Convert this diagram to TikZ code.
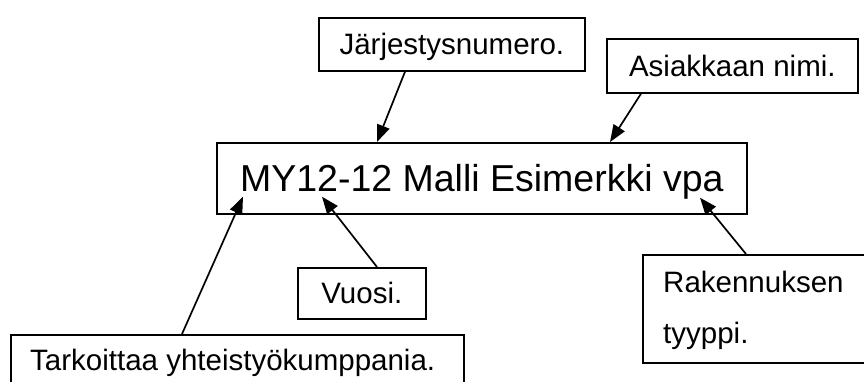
\documentclass[tikz,border=0pt]{standalone}
\usepackage{fontspec}
\setmainfont{Liberation Sans}
\usetikzlibrary{arrows.meta,calc}
\tikzset{
  box/.style={draw, line width=1.7pt, inner sep=0pt, anchor=north west},
  arr/.style={line width=1.7pt, -{Triangle[length=17pt,width=13pt]}},
  small/.style={font=\fontsize{29.5}{34}\selectfont, text height=21.1pt, text depth=0pt},
  big/.style={font=\fontsize{37.5}{44}\selectfont, text height=26.8pt, text depth=0pt},
  lbl/.style={small, inner sep=0pt, anchor=base west},
}
\begin{document}
\begin{tikzpicture}[x=1pt,y=-1pt]
\useasboundingbox (0,0) rectangle (864,381);
\clip (0,0) rectangle (864,381);
\fill[white] (0,0) rectangle (864,381);
% boxes
\node[box, small, minimum width=266pt, minimum height=53pt] (j) at (318,17) {Järjestysnumero.};
\node[box, small, minimum width=251pt, minimum height=54pt] (a) at (606,38) {Asiakkaan nimi.};
\node[box, big, minimum width=530pt, minimum height=71pt] (m) at (216,142) {MY12-12 Malli Esimerkki vpa};
\node[box, small, minimum width=128pt, minimum height=51pt] (v) at (297,267) {Vuosi.};
\node[box, minimum width=453pt, minimum height=90pt] (tb) at (10,334) {};
\node[lbl] (tt) at (30,370) {Tarkoittaa yhteistyökumppania.};
\node[box, minimum width=260pt, minimum height=108pt] (r) at (642,254) {};
\node[lbl] (r1) at (663,292) {Rakennuksen};
\node[lbl] (r2) at (663,343) {tyyppi.};
% connectors
\draw[arr] ($(j.south west)+(87,0)$) -- ($(m.north west)+(161,0)$);
\draw[arr] ($(a.south west)+(35,0)$) -- ($(m.north west)+(394,0)$);
\draw[arr] ($(tb.north west)+(172,0)$) -- ($(m.south west)+(27,-18)$);
\draw[arr] ($(v.north west)+(80,0)$) -- ($(m.south west)+(106,-18)$);
\draw[arr] ($(r.north west)+(104,0)$) -- ($(m.south west)+(484,-17)$);
\end{tikzpicture}
\end{document}
